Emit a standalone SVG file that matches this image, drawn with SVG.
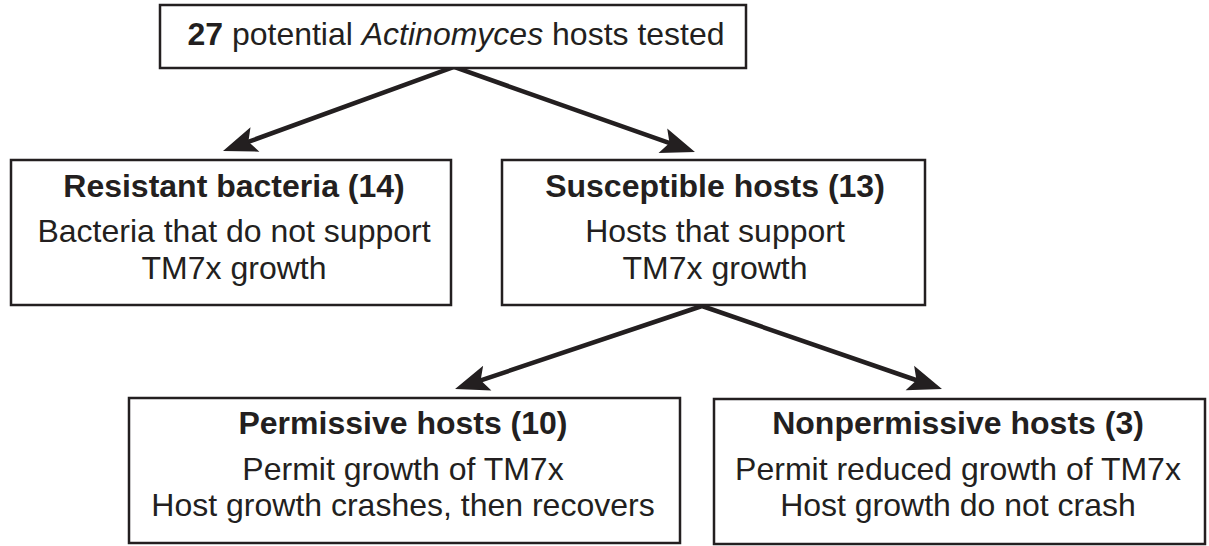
<svg xmlns="http://www.w3.org/2000/svg" width="1209" height="546" viewBox="0 0 1209 546">
  <style>
    .box { fill: #ffffff; stroke: #231f20; stroke-width: 2.5; }
    .t { font-family: "Liberation Sans", Arial, Helvetica, sans-serif; font-size: 32px; fill: #231f20; text-anchor: middle; }
    .b { font-weight: bold; }
    .conn { fill: none; stroke: #231f20; stroke-width: 4.5; stroke-linejoin: miter; }
  </style>
  <defs>
    <marker id="arrow" markerUnits="userSpaceOnUse" viewBox="-16 -14 38 28" refX="0" refY="0" markerWidth="38" markerHeight="28" orient="auto-start-reverse">
      <path d="M20,0 L-14,-13 L-7,0 L-14,13 Z" fill="#231f20"/>
    </marker>
  </defs>
  <rect width="1209" height="546" fill="#ffffff"/>

  <g id="connectors">
    <path class="conn" d="M241.8,144.2 L454,67 L676.1,145.3" marker-start="url(#arrow)" marker-end="url(#arrow)"/>
    <path class="conn" d="M474,382.6 L702,306 L923.1,382.5" marker-start="url(#arrow)" marker-end="url(#arrow)"/>
  </g>

  <g id="node-tested">
    <rect class="box" x="160" y="5" width="586" height="63"/>
    <text class="t" x="456" y="45"><tspan class="b">27</tspan> potential <tspan font-style="italic">Actinomyces</tspan> hosts tested</text>
  </g>

  <g id="node-resistant">
    <rect class="box" x="11" y="160" width="440" height="145"/>
    <text class="t b" x="234" y="197">Resistant bacteria (14)</text>
    <text class="t" x="234" y="242">Bacteria that do not support</text>
    <text class="t" x="234" y="279">TM7x growth</text>
  </g>

  <g id="node-susceptible">
    <rect class="box" x="502" y="160" width="423" height="145"/>
    <text class="t b" x="715" y="197">Susceptible hosts (13)</text>
    <text class="t" x="715" y="242">Hosts that support</text>
    <text class="t" x="715" y="279">TM7x growth</text>
  </g>

  <g id="node-permissive">
    <rect class="box" x="129" y="398" width="551" height="145"/>
    <text class="t b" x="403" y="434">Permissive hosts (10)</text>
    <text class="t" x="403" y="480">Permit growth of TM7x</text>
    <text class="t" x="403" y="516">Host growth crashes, then recovers</text>
  </g>

  <g id="node-nonpermissive">
    <rect class="box" x="714" y="399" width="491" height="145"/>
    <text class="t b" x="958" y="434">Nonpermissive hosts (3)</text>
    <text class="t" x="958" y="480">Permit reduced growth of TM7x</text>
    <text class="t" x="958" y="516">Host growth do not crash</text>
  </g>
</svg>
